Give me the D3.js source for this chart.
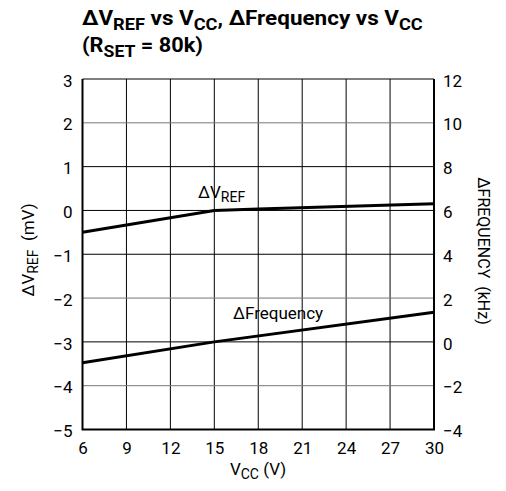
<!DOCTYPE html>
<html><head><meta charset="utf-8">
<script src="https://cdn.jsdelivr.net/npm/d3@7"></script>
<style>
body{margin:0;background:#fff;}
svg{display:block;}
text{font-family:Roboto,"Liberation Sans",sans-serif;fill:#000;}
</style></head><body>
<script>
const vccTicks = [6, 9, 12, 15, 18, 21, 24, 27, 30];
const leftTicks = [3, 2, 1, 0, -1, -2, -3, -4, -5];
const rightTicks = [12, 10, 8, 6, 4, 2, 0, -2, -4];
const grayLines = [2, -2, -4];
const vrefVcc = [6, 15, 18, 30];
const vrefVals = [-0.5, 0.0, 0.03, 0.15];
const freqVcc = [6, 15, 30];
const freqVals = [-0.95, 0.0, 1.35];

const W = 506, H = 491;
const m = {l: 82.5, r: 434, t: 79, b: 429.5};
const svg = d3.select("body").append("svg").attr("width", W).attr("height", H);

const x = d3.scaleLinear().domain([6, 30]).range([m.l, m.r]);
const yL = d3.scaleLinear().domain([-5, 3]).range([m.b, m.t]);
const yR = d3.scaleLinear().domain([-4, 12]).range([m.b, m.t]);
const fmt = v => (v < 0 ? "\u2212" + Math.abs(v) : "" + v);

// grid
svg.append("g").selectAll("line").data(vccTicks.slice(1, -1)).join("line")
  .attr("x1", d => x(d)).attr("x2", d => x(d)).attr("y1", m.t).attr("y2", m.b)
  .attr("stroke", "#000").attr("stroke-width", 1);
svg.append("g").selectAll("line").data(leftTicks.slice(1, -1)).join("line")
  .attr("x1", m.l).attr("x2", m.r).attr("y1", d => yL(d)).attr("y2", d => yL(d))
  .attr("stroke", d => grayLines.includes(d) ? "#777" : "#000").attr("stroke-width", 1);

// frame
svg.append("line").attr("x1", m.l).attr("x2", m.r).attr("y1", m.t).attr("y2", m.t).attr("stroke", "#000").attr("stroke-width", 1.2);
svg.append("path").attr("d", `M${m.l},${m.t}V${m.b}H${m.r}V${m.t}`).attr("fill", "none").attr("stroke", "#000").attr("stroke-width", 2);

// axes labels
const axL = d3.axisLeft(yL).tickValues(leftTicks).tickSize(0).tickPadding(10).tickFormat(fmt);
const gL = svg.append("g").attr("transform", `translate(${m.l},0)`).call(axL);
const axR = d3.axisRight(yR).tickValues(rightTicks).tickSize(0).tickPadding(9).tickFormat(fmt);
const gR = svg.append("g").attr("transform", `translate(${m.r},0)`).call(axR);
const axB = d3.axisBottom(x).tickValues(vccTicks).tickSize(0).tickPadding(12);
const gB = svg.append("g").attr("transform", `translate(0,${m.b})`).call(axB);
[gL, gR, gB].forEach(g => {
  g.select(".domain").remove();
  g.attr("font-family", null).attr("font-size", null);
  g.selectAll("text").attr("font-size", 17);
});
gL.selectAll("text").attr("dy", "0.42em");
gR.selectAll("text").attr("dy", "0.42em");

// data lines
const line = (xs, ys, sc) => d3.line().x((d, i) => x(xs[i])).y((d, i) => sc(ys[i]))(xs);
svg.append("path").attr("d", line(vrefVcc, vrefVals, yL)).attr("fill", "none").attr("stroke", "#000").attr("stroke-width", 3);
svg.append("path").attr("d", line(freqVcc, freqVals, yR)).attr("fill", "none").attr("stroke", "#000").attr("stroke-width", 3);

// line labels
const t1 = svg.append("text").attr("x", 198).attr("y", 198).attr("font-size", 17);
t1.append("tspan").text("\u0394V");
t1.append("tspan").attr("font-size", 14).attr("dy", 4).text("REF");
svg.append("text").attr("x", 233).attr("y", 319).attr("font-size", 17).text("\u0394Frequency");

// axis titles
const xt = svg.append("text").attr("x", 258).attr("y", 475).attr("text-anchor", "middle").attr("font-size", 17);
xt.append("tspan").text("V");
xt.append("tspan").attr("font-size", 14).attr("dy", 4).text("CC");
xt.append("tspan").attr("dy", -4).text(" (V)");

const lt = svg.append("text").attr("transform", "translate(34,250) rotate(-90)").attr("text-anchor", "middle").attr("font-size", 17);
lt.append("tspan").text("\u0394V");
lt.append("tspan").attr("font-size", 14).attr("dy", 4).text("REF");
lt.append("tspan").attr("dy", -4).attr("xml:space", "preserve").text("  (mV)");

svg.append("text").attr("transform", "translate(478,251) rotate(90)").attr("text-anchor", "middle").attr("font-size", 16)
  .attr("xml:space", "preserve").text("\u0394FREQUENCY  (kHz)");

// title
function fitWidth(sel, x0, w) {
  const bw = sel.node().getBBox().width;
  sel.attr("transform", `translate(${x0},0) scale(${w / bw},1)`);
}
const ti = svg.append("text").attr("x", 0).attr("y", 25.5).attr("font-size", 21).attr("font-weight", "bold");
ti.append("tspan").text("\u0394V");
ti.append("tspan").attr("font-size", 17).attr("dy", 5).text("REF");
ti.append("tspan").attr("dy", -5).text(" vs V");
ti.append("tspan").attr("font-size", 17).attr("dy", 5).text("CC");
ti.append("tspan").attr("dy", -5).text(", \u0394Frequency vs V");
ti.append("tspan").attr("font-size", 17).attr("dy", 5).text("CC");
fitWidth(ti, 82, 341);
const ti2 = svg.append("text").attr("x", 0).attr("y", 52.5).attr("font-size", 21).attr("font-weight", "bold");
ti2.append("tspan").text("(R");
ti2.append("tspan").attr("font-size", 17).attr("dy", 5).text("SET");
ti2.append("tspan").attr("dy", -5).text(" = 80k)");
fitWidth(ti2, 82, 121);
</script>
</body></html>
